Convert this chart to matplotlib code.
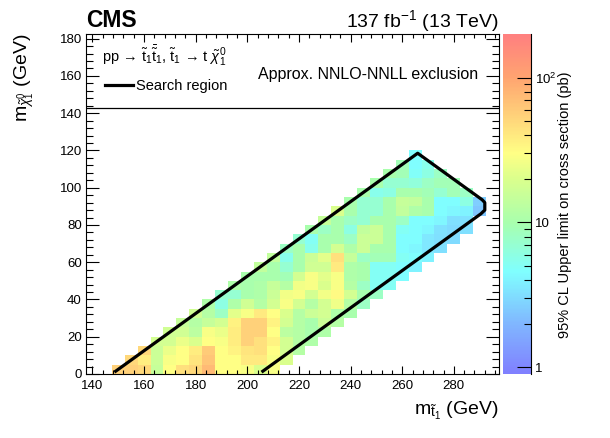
import numpy as np
import matplotlib
matplotlib.use("Agg")
import matplotlib.pyplot as plt
from matplotlib.colors import LinearSegmentedColormap, LogNorm
from matplotlib.lines import Line2D
from matplotlib.ticker import MultipleLocator, NullFormatter

plt.rcParams['font.family'] = ['Liberation Sans', 'DejaVu Sans']
plt.rcParams['mathtext.fontset'] = 'custom'
plt.rcParams['mathtext.rm'] = 'Liberation Sans'
plt.rcParams['mathtext.it'] = 'Liberation Sans:italic'
plt.rcParams['mathtext.bf'] = 'Liberation Sans:bold'

# grid: 5 GeV cells, each row starts at its own stop mass
mlsp_centers = [2.5, 7.5, 12.5, 17.5, 22.5, 27.5, 32.5, 37.5, 42.5, 47.5, 52.5, 57.5,
                62.5, 67.5, 72.5, 77.5, 82.5, 87.5, 92.5, 97.5, 102.5, 107.5, 112.5, 117.5]
first_mstop = [150, 155, 160, 165, 170, 175, 180, 185, 190, 195, 200, 205,
               210, 215, 220, 225, 230, 235, 240, 245, 250, 255, 260, 265]

# 95% CL upper limits (pb)
xsec_rows = [
    [55, 55, 50, 15, 30, 45, 50, 75, 30, 30, 28, 20, 28],
    [50, 38, 16, 28, 30, 42, 65, 30, 30, 40, 40, 28, 20],
    [50, 16, 24, 30, 38, 60, 30, 35, 42, 45, 30, 18, 12],
    [18, 18, 24, 20, 30, 28, 38, 55, 45, 35, 18, 12, 11],
    [17, 17, 13, 28, 24, 38, 55, 55, 30, 13, 12, 10, 11],
    [15, 12, 15, 18, 36, 55, 55, 35, 18, 12, 10, 16, 12],
    [17, 12, 8, 22, 28, 40, 30, 20, 12, 16, 18, 11, 10],
    [11, 6, 11, 17, 12, 18, 28, 18, 12, 18, 25, 12, 8],
    [7, 7, 10, 11, 16, 26, 28, 18, 26, 32, 18, 10, 8],
    [11, 10, 11, 15, 12, 26, 28, 20, 28, 12, 8, 5, 5],
    [10, 10, 10, 9, 18, 28, 22, 28, 11, 10, 5, 5, 4.5],
    [14, 10, 7, 10, 17, 17, 40, 11, 10, 5, 5, 4.5, 4],
    [14, 5.5, 10, 16, 22, 45, 15, 8, 9, 9, 5, 4.5, 4],
    [8, 10, 5.5, 10, 18, 11, 16, 10, 10, 4.5, 4.2, 3.5, 3.2],
    [7, 5, 10, 10, 8, 16, 16, 10, 4.5, 4.5, 3.5, 3.2, 3.0],
    [10, 8, 10, 6, 14, 16, 10, 5, 4.5, 4.2, 3.3, 3.0, 3.2],
    [15, 10, 8, 7, 10, 10, 8, 4.5, 4.5, 4.2, 3.2, 3.3],
    [20, 10, 7, 7, 10, 14, 11, 10, 4.5, 4.2, 4.0, 2.4],
    [10, 7, 7, 10, 15, 14, 10, 4.5, 4.5, 6, 2.6],
    [10, 5.5, 6, 10, 10, 9, 7, 9, 8],
    [10, 7, 7, 6.5, 8, 9, 9],
    [10, 9, 4.8, 6, 8],
    [9, 4.5, 5.5],
    [4.5],
]

# search region outline
region_mstop = [149, 266, 291, 292, 292, 290.5, 206]
region_mlsp = [1.5, 118.5, 93.5, 92, 88, 86, 1.5]

x_edges = np.arange(147.5, 297.5, 5)
y_edges = np.arange(0, 125, 5)
grid = np.full((len(y_edges) - 1, len(x_edges) - 1), np.nan)
for yc, x0, vals in zip(mlsp_centers, first_mstop, xsec_rows):
    j = int((yc - y_edges[0]) // 5)
    i0 = int((x0 - x_edges[0]) // 5)
    grid[j, i0:i0 + len(vals)] = vals

# pale rainbow palette
cmap = LinearSegmentedColormap.from_list('pale', [
    (0.000, (0.50, 0.50, 1.00)),
    (0.150, (0.50, 0.72, 1.00)),
    (0.300, (0.50, 1.00, 1.00)),
    (0.445, (0.66, 1.00, 0.68)),
    (0.575, (0.86, 1.00, 0.55)),
    (0.650, (1.00, 1.00, 0.52)),
    (0.780, (1.00, 0.79, 0.47)),
    (0.875, (1.00, 0.64, 0.44)),
    (1.000, (1.00, 0.50, 0.50)),
])
norm = LogNorm(vmin=0.9, vmax=200)

fig = plt.figure(figsize=(6.1, 4.38), dpi=100)
ax = fig.add_axes([86/610, 64/438, 413/610, 340/438])
cax = fig.add_axes([503/610, 64/438, 28/610, 340/438])

mesh = ax.pcolormesh(x_edges, y_edges, np.ma.masked_invalid(grid), cmap=cmap, norm=norm,
                     shading='flat', edgecolors='none', antialiased=False)
ax.plot(region_mstop, region_mlsp, color='black', lw=2.3)
ax.axhline(143, color='black', lw=0.9)

ax.set_xlim(137.5, 297.5)
ax.set_ylim(0, 182.5)
ax.set_xticks(np.arange(140, 300, 20))
ax.set_yticks(np.arange(0, 200, 20))
ax.xaxis.set_minor_locator(MultipleLocator(4))
ax.yaxis.set_minor_locator(MultipleLocator(4))
ax.tick_params(which='both', direction='in', top=True, right=True, width=0.8)
ax.tick_params(axis='x', which='major', length=5.8, labelsize=9.5, pad=4)
ax.tick_params(axis='x', which='minor', length=2.9)
ax.tick_params(axis='y', which='major', length=9.4, labelsize=9.5, pad=3)
ax.tick_params(axis='y', which='minor', length=4.7)
for s in ax.spines.values():
    s.set_linewidth(0.8)

ax.set_xlabel(r'm$_{\tilde{\mathrm{t}}_{1}}$ (GeV)', fontsize=14, loc='right')
ax.xaxis.set_label_coords(1.0, -0.075)
ax.set_ylabel(r'm$_{\tilde{\chi}^{0}_{1}}$ (GeV)', fontsize=14, loc='top')
ax.yaxis.set_label_coords(-0.12, 1.0)

ax.text(0.0, 1.021, 'CMS', fontsize=16.5, fontweight='bold', transform=ax.transAxes,
        ha='left', va='baseline')
ax.text(1.0, 1.021, r'137 fb$^{-1}$ (13 TeV)', fontsize=14, transform=ax.transAxes,
        ha='right', va='baseline')

ax.text(0.039, 0.935,
        r'pp → $\tilde{\mathrm{t}}_{1}\bar{\tilde{\mathrm{t}}}_{1}$, '
        r'$\tilde{\mathrm{t}}_{1}$ → t $\tilde{\chi}^{0}_{1}$',
        fontsize=10.5, transform=ax.transAxes, ha='left', va='center')
ax.text(0.949, 0.882, 'Approx. NNLO-NNLL exclusion', fontsize=11.5,
        transform=ax.transAxes, ha='right', va='center')
handle = Line2D([], [], color='black', lw=2.3)
ax.legend([handle], ['Search region'], loc='center left', bbox_to_anchor=(0.046, 0.847),
          frameon=False, fontsize=10.5, handlelength=1.9, handletextpad=0.2,
          borderpad=0, borderaxespad=0)

cb = fig.colorbar(mesh, cax=cax)
cb.outline.set_visible(False)
cax.spines['right'].set_visible(True)
cax.spines['right'].set_linewidth(0.8)
cb.set_ticks([1, 10, 100])
cb.set_ticklabels(['1', '10', r'10$^{2}$'])
minor_vals = [v * m for m in (1, 10, 100) for v in range(2, 10) if v * m < 200]
cax.set_yticks(minor_vals, minor=True)
cax.yaxis.set_minor_formatter(NullFormatter())
cax.tick_params(which='both', direction='in', right=True, left=False, width=0.8)
cax.tick_params(which='major', length=10, labelsize=9.5, pad=3)
cax.tick_params(which='minor', length=5)
fig.text(565/610, 1 - 205/438, '95% CL Upper limit on cross section (pb)', rotation=90,
         ha='center', va='center', fontsize=10.5)

fig.savefig('out.png', dpi=100)
